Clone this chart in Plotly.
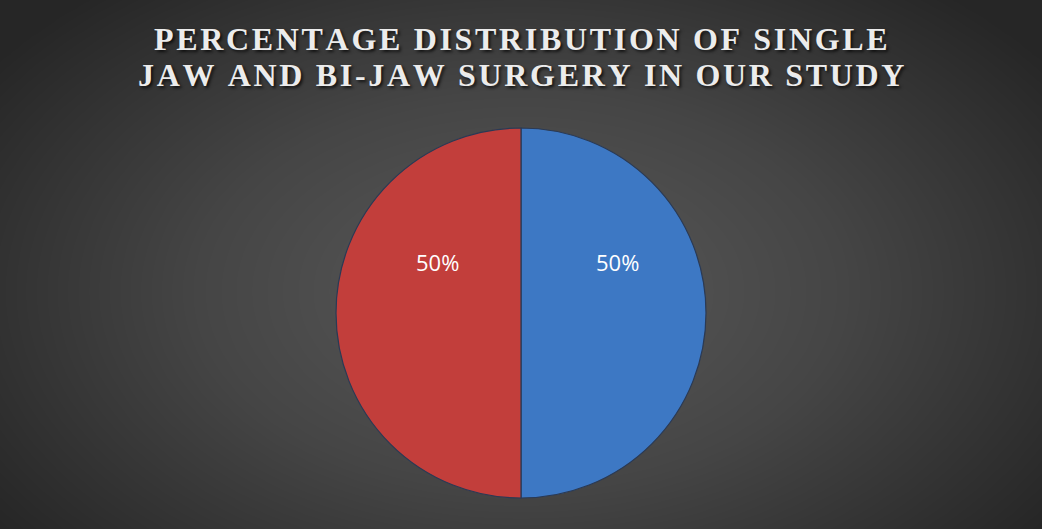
import numpy as np
import plotly.graph_objects as go

# Surgery type shares
categories = ["Single Jaw", "Bi-Jaw"]
values = [50, 50]
colors = ["#3d78c4", "#c23e3b"]

title_lines = ["PERCENTAGE DISTRIBUTION OF SINGLE", "JAW AND BI-JAW SURGERY IN OUR STUDY"]

W, H = 1042, 529

fig = go.Figure()

# Radial background gradient drawn as a smooth heatmap over the whole paper
gx = np.linspace(0, 1, 120)
gy = np.linspace(0, 1, 70)
X, Y = np.meshgrid(gx, gy)
R = np.sqrt(((X - 0.5) / 0.62) ** 2 + ((Y - 0.45) / 0.75) ** 2)
fig.add_trace(go.Heatmap(
    x=gx, y=gy, z=np.clip(R, 0, 1), zmin=0, zmax=1,
    colorscale=[[0, "#5a5a5a"], [0.5, "#454545"], [1, "#262626"]],
    zsmooth="best", showscale=False, hoverinfo="skip",
    xaxis="x", yaxis="y",
))

# Pie chart
px0, px1 = 336 / W, 706 / W
py0, py1 = 1 - 498 / H, 1 - 128 / H
fig.add_trace(go.Pie(
    labels=categories, values=values,
    marker=dict(colors=colors, line=dict(color="#2a3a55", width=1.2)),
    sort=False, direction="clockwise", rotation=0,
    textinfo="none", showlegend=False,
    domain=dict(x=[px0, px1], y=[py0, py1]),
))

# Percentage labels
total = sum(values)
label_pos = [(617 / W, 1 - 262 / H), (437 / W, 1 - 262 / H)]
for v, (lx, ly) in zip(values, label_pos):
    fig.add_annotation(
        x=lx, y=ly, xref="paper", yref="paper",
        text=f"{round(100 * v / total)}%", showarrow=False,
        font=dict(family="Open Sans", size=22, color="white"),
    )


def spaced(s, gap="\u200a"):
    # widen the tracking of the title letters
    return gap.join(s)


# Title, one annotation per line for tighter leading
for line, yc in zip(title_lines, [39, 75]):
    fig.add_annotation(
        x=0.5, y=1 - yc / H, xref="paper", yref="paper",
        xanchor="center", yanchor="middle",
        text=spaced(line), showarrow=False,
        font=dict(family="Liberation Serif", size=32, color="#ececec", weight="bold",
                  shadow="2px 2px 3px rgba(0,0,0,0.7)"),
    )

fig.update_layout(
    width=W, height=H,
    margin=dict(l=0, r=0, t=0, b=0),
    paper_bgcolor="#2a2a2a", plot_bgcolor="rgba(0,0,0,0)",
    xaxis=dict(visible=False, range=[0, 1], domain=[0, 1], fixedrange=True),
    yaxis=dict(visible=False, range=[0, 1], domain=[0, 1], fixedrange=True),
)

fig.write_html("out.html")
